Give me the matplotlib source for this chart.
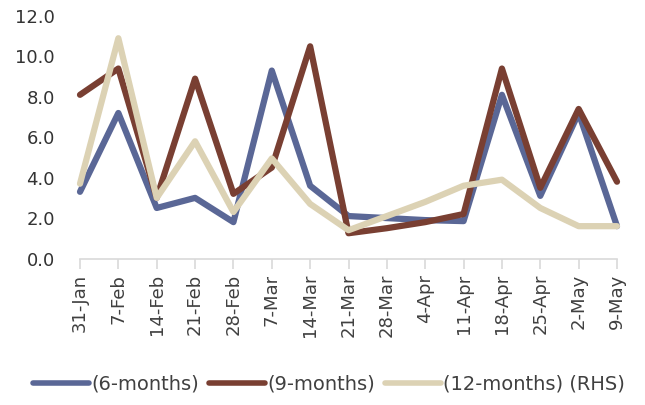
import matplotlib.pyplot as plt
import matplotlib.transforms as mtransforms
import numpy as np

plt.rcParams['font.family'] = ['DejaVu Sans']

dates = ['31-Jan', '7-Feb', '14-Feb', '21-Feb', '28-Feb', '7-Mar', '14-Mar', '21-Mar',
         '28-Mar', '4-Apr', '11-Apr', '18-Apr', '25-Apr', '2-May', '9-May']
m6 = [3.3, 7.2, 2.5, 3.0, 1.8, 9.3, 3.6, 2.1, 2.0, 1.9, 1.85, 8.1, 3.1, 7.2, 1.6]
m9 = [8.1, 9.4, 3.0, 8.9, 3.2, 4.5, 10.5, 1.25, 1.5, 1.8, 2.2, 9.4, 3.5, 7.4, 3.8]
m12 = [3.7, 10.9, 3.0, 5.8, 2.3, 4.95, 2.7, 1.4, 2.1, 2.8, 3.6, 3.9, 2.5, 1.6, 1.6]
yticks = [0, 2, 4, 6, 8, 10, 12]

c6 = '#5A6796'
c9 = '#793F32'
c12 = '#DCD2B4'

fig = plt.figure(figsize=(6.45, 4.05), dpi=100)
ax = fig.add_axes([80/645, 1-258.5/405, (617-80)/645, (258.5-16)/405])

x = np.arange(len(dates))
lw = 4.5
ax.plot(x, m6, color=c6, lw=lw, solid_capstyle='round', label='(6-months)', clip_on=False)
ax.plot(x, m9, color=c9, lw=lw, solid_capstyle='round', label='(9-months)', clip_on=False)
ax.plot(x, m12, color=c12, lw=lw, solid_capstyle='round', label='(12-months) (RHS)', clip_on=False)

ax.set_xlim(0, len(dates)-1)
ax.set_ylim(0, 12)
ax.set_yticks(yticks)
ax.set_yticklabels(['%.1f' % v for v in yticks], fontsize=13, color='#333333')
ax.set_xticks(x)
ax.set_xticklabels(dates, rotation=90, fontsize=13, color='#404040')
offset = mtransforms.ScaledTranslation(6/100, 0, fig.dpi_scale_trans)
for lab in ax.get_xticklabels():
    lab.set_transform(lab.get_transform() + offset)

for s in ['top', 'right', 'left']:
    ax.spines[s].set_visible(False)
ax.spines['bottom'].set_color('#D9D9D9')
ax.spines['bottom'].set_linewidth(1.2)
ax.tick_params(axis='x', length=7, color='#D9D9D9', width=1.2, pad=4)
ax.tick_params(axis='y', length=0, pad=18)

leg = fig.legend(loc='lower center', bbox_to_anchor=(0.51, -0.015), ncol=3, frameon=False,
                 fontsize=14, handlelength=2.9, handletextpad=0.1, columnspacing=0.5,
                 labelcolor='#404040')
for h in leg.get_lines():
    h.set_linewidth(4)

fig.savefig('out.png', dpi=100)
